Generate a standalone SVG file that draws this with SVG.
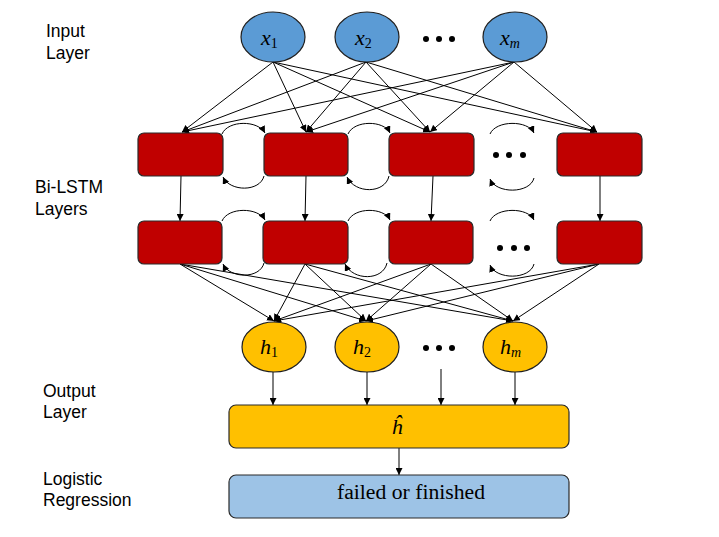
<svg xmlns="http://www.w3.org/2000/svg" width="719" height="537" viewBox="0 0 719 537">
<style>
.lbl{font-family:"Liberation Sans","Open Sans",sans-serif;font-size:17.5px;fill:#000}
.math{font-family:"Liberation Serif","DejaVu Serif",serif;font-style:italic;font-size:22px;fill:#000}
.sub{font-style:normal;font-size:14px}
.subi{font-size:14px}
.in{fill:#5B9BD5;stroke:#1F1F1F;stroke-width:1.2}
.out{fill:#FFC000;stroke:#1F1F1F;stroke-width:1.2}
.lstm{fill:#C00000;stroke:#2A2A2A;stroke-width:1.2}
.agg{fill:#FFC000;stroke:#2A2A2A;stroke-width:1.2}
.lr{fill:#9DC3E6;stroke:#2A2A2A;stroke-width:1.2}
.e{stroke:#000;stroke-width:1;fill:none;marker-end:url(#ah)}
.dot{fill:#000}
</style>
<defs>
<marker id="ah" viewBox="0 0 10 10" refX="10" refY="5" markerWidth="7" markerHeight="7" markerUnits="userSpaceOnUse" orient="auto">
<path d="M0,0 L10,5 L0,10 z" fill="#000"/>
</marker>
</defs>

<g id="labels">
<text class="lbl" x="46" y="37">Input</text>
<text class="lbl" x="46" y="59">Layer</text>
<text class="lbl" x="35" y="193">Bi-LSTM</text>
<text class="lbl" x="35" y="215">Layers</text>
<text class="lbl" x="43" y="397">Output</text>
<text class="lbl" x="43" y="418">Layer</text>
<text class="lbl" x="43" y="485">Logistic</text>
<text class="lbl" x="43" y="506">Regression</text>
</g>

<g id="connectors">
<!-- input to LSTM row 1 -->
<line class="e" x1="273" y1="62" x2="182" y2="132"/>
<line class="e" x1="273" y1="62" x2="306" y2="132"/>
<line class="e" x1="273" y1="62" x2="430" y2="132"/>
<line class="e" x1="273" y1="62" x2="597" y2="132"/>
<line class="e" x1="366" y1="62" x2="182" y2="132"/>
<line class="e" x1="366" y1="62" x2="306" y2="132"/>
<line class="e" x1="366" y1="62" x2="430" y2="132"/>
<line class="e" x1="366" y1="62" x2="597" y2="132"/>
<line class="e" x1="514" y1="62" x2="182" y2="132"/>
<line class="e" x1="514" y1="62" x2="306" y2="132"/>
<line class="e" x1="514" y1="62" x2="430" y2="132"/>
<line class="e" x1="514" y1="62" x2="597" y2="132"/>
<!-- row1 to row2 -->
<line class="e" x1="181" y1="176" x2="180" y2="221"/>
<line class="e" x1="306" y1="176" x2="305" y2="221"/>
<line class="e" x1="433" y1="176" x2="431" y2="221"/>
<line class="e" x1="600" y1="176" x2="600" y2="221"/>
<!-- recurrent arcs row 1 -->
<path class="e" d="M222 134 C228 120 258 120 265 133"/>
<path class="e" d="M264 176 C260 192 230 192 223 177"/>
<path class="e" d="M348 134 C354 120 384 120 390 133"/>
<path class="e" d="M389 176 C385 194 355 194 347 177"/>
<path class="e" d="M490 134 C496 120 528 120 534 133"/>
<path class="e" d="M534 178 C530 194 496 194 490 179"/>
<!-- recurrent arcs row 2 -->
<path class="e" d="M222 221 C228 207 258 207 265 220"/>
<path class="e" d="M264 263 C260 279 230 279 223 264"/>
<path class="e" d="M348 221 C354 207 384 207 390 220"/>
<path class="e" d="M387 263 C383 281 353 281 345 264"/>
<path class="e" d="M490 221 C496 207 528 207 534 220"/>
<path class="e" d="M534 264 C530 280 496 280 490 265"/>
<!-- row2 to h -->
<line class="e" x1="180" y1="264" x2="274" y2="321"/>
<line class="e" x1="180" y1="264" x2="366" y2="321"/>
<line class="e" x1="180" y1="264" x2="513" y2="321"/>
<line class="e" x1="305" y1="264" x2="274" y2="321"/>
<line class="e" x1="305" y1="264" x2="366" y2="321"/>
<line class="e" x1="305" y1="264" x2="513" y2="321"/>
<line class="e" x1="431" y1="264" x2="274" y2="321"/>
<line class="e" x1="431" y1="264" x2="366" y2="321"/>
<line class="e" x1="431" y1="264" x2="513" y2="321"/>
<line class="e" x1="599" y1="264" x2="274" y2="321"/>
<line class="e" x1="599" y1="264" x2="366" y2="321"/>
<line class="e" x1="599" y1="264" x2="513" y2="321"/>
<!-- h to aggregate -->
<line class="e" x1="273" y1="372" x2="273" y2="405"/>
<line class="e" x1="367" y1="372" x2="367" y2="405"/>
<line class="e" x1="441" y1="369" x2="441" y2="405"/>
<line class="e" x1="515" y1="372" x2="515" y2="405"/>
<line class="e" x1="399" y1="448" x2="399" y2="475"/>
</g>

<g id="x1"><ellipse class="in" cx="273" cy="37" rx="32" ry="25"/><text class="math" x="261" y="45">x<tspan class="sub" dy="3">1</tspan></text></g>
<g id="x2"><ellipse class="in" cx="367" cy="37" rx="32" ry="25"/><text class="math" x="355" y="45">x<tspan class="sub" dy="3">2</tspan></text></g>
<g id="xdots"><circle class="dot" cx="426" cy="39" r="3"/><circle class="dot" cx="439" cy="39" r="3"/><circle class="dot" cx="452" cy="39" r="3"/></g>
<g id="xm"><ellipse class="in" cx="515" cy="37" rx="32" ry="25"/><text class="math" x="500" y="45">x<tspan class="subi" dy="3">m</tspan></text></g>

<g id="f1"><rect class="lstm" x="138" y="133" width="85" height="43" rx="6"/></g>
<g id="f2"><rect class="lstm" x="264" y="133" width="84" height="43" rx="6"/></g>
<g id="f3"><rect class="lstm" x="389" y="133" width="85" height="43" rx="6"/></g>
<g id="fdots"><circle class="dot" cx="496" cy="155" r="3"/><circle class="dot" cx="509" cy="155" r="3"/><circle class="dot" cx="523" cy="155" r="3"/></g>
<g id="f4"><rect class="lstm" x="557" y="133" width="85" height="43" rx="6"/></g>

<g id="b1"><rect class="lstm" x="138" y="221" width="84" height="43" rx="6"/></g>
<g id="b2"><rect class="lstm" x="263" y="221" width="85" height="43" rx="6"/></g>
<g id="b3"><rect class="lstm" x="389" y="221" width="84" height="43" rx="6"/></g>
<g id="bdots"><circle class="dot" cx="500" cy="248" r="3"/><circle class="dot" cx="514" cy="248" r="3"/><circle class="dot" cx="527" cy="248" r="3"/></g>
<g id="b4"><rect class="lstm" x="557" y="221" width="85" height="43" rx="6"/></g>

<g id="h1"><ellipse class="out" cx="274" cy="347" rx="32" ry="25"/><text class="math" x="260" y="354">h<tspan class="sub" dy="3">1</tspan></text></g>
<g id="h2"><ellipse class="out" cx="367" cy="347" rx="32" ry="25"/><text class="math" x="353" y="354">h<tspan class="sub" dy="3">2</tspan></text></g>
<g id="hdots"><circle class="dot" cx="426" cy="348" r="3"/><circle class="dot" cx="439" cy="348" r="3"/><circle class="dot" cx="452" cy="348" r="3"/></g>
<g id="hm"><ellipse class="out" cx="515" cy="347" rx="32" ry="25"/><text class="math" x="500" y="354">h<tspan class="subi" dy="3">m</tspan></text></g>

<g id="hhat"><rect class="agg" x="229" y="405" width="340" height="43" rx="7"/><text class="math" x="397" y="434" text-anchor="middle" font-size="20">ĥ</text></g>
<g id="result"><rect class="lr" x="229" y="475" width="340" height="43" rx="7"/><text x="411" y="499" text-anchor="middle" font-family="Liberation Serif, DejaVu Serif, serif" font-size="20" textLength="148" lengthAdjust="spacingAndGlyphs">failed or finished</text></g>
</svg>
